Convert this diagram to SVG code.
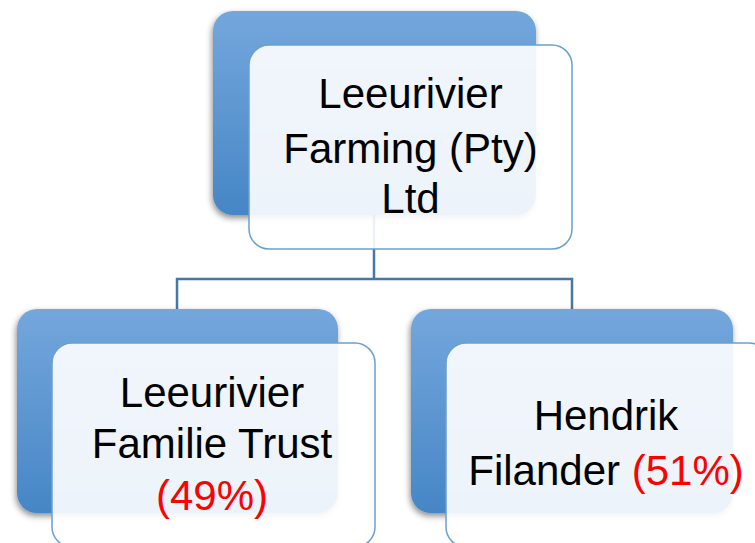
<svg xmlns="http://www.w3.org/2000/svg" width="755" height="543" viewBox="0 0 755 543">
  <defs>
    <linearGradient id="backFill" x1="0" y1="0" x2="0" y2="1">
      <stop offset="0" stop-color="#74a7dc"/>
      <stop offset="1" stop-color="#4686c6"/>
    </linearGradient>
    <filter id="shadow" x="-10%" y="-10%" width="125%" height="130%">
      <feDropShadow dx="-1" dy="3" stdDeviation="3" flood-color="#000" flood-opacity="0.45"/>
    </filter>
    <style>
      .back { fill: url(#backFill); filter: url(#shadow); }
      .front { fill: #ffffff; fill-opacity: 0.9; stroke: #6a9fd3; stroke-width: 1.5; }
      .conn { fill: none; stroke: #4677a8; stroke-width: 2.5; }
      .label { font-family: "Liberation Sans", Arial, sans-serif; font-size: 42px; fill: #000; text-anchor: middle; }
      .pct { fill: #ff0000; }
    </style>
  </defs>

  <rect width="755" height="543" fill="#ffffff"/>

  <!-- connectors -->
  <g id="connectors">
    <path class="conn" d="M374,215 V279"/>
    <path class="conn" d="M177,309 V279 H572 V309"/>
  </g>

  <!-- top node -->
  <g id="node-farming">
    <rect class="back" x="213" y="11" width="323" height="204" rx="20"/>
    <rect class="front" x="249" y="45" width="323" height="204" rx="20"/>
    <text class="label" x="410.5" y="108">Leeurivier</text>
    <text class="label" x="410.5" y="163">Farming (Pty)</text>
    <text class="label" x="410.5" y="213">Ltd</text>
  </g>

  <!-- bottom left node -->
  <g id="node-trust">
    <rect class="back" x="17" y="309" width="321" height="204" rx="20"/>
    <rect class="front" x="52" y="343" width="323" height="204" rx="20"/>
    <text class="label" x="212" y="407">Leeurivier</text>
    <text class="label" x="212" y="458">Familie Trust</text>
    <text class="label pct" x="212" y="510">(49%)</text>
  </g>

  <!-- bottom right node -->
  <g id="node-hendrik">
    <rect class="back" x="411" y="309" width="322" height="204" rx="20"/>
    <rect class="front" x="446" y="343" width="323" height="204" rx="20"/>
    <text class="label" x="606" y="430">Hendrik</text>
    <text class="label" x="606" y="485">Filander <tspan class="pct">(51%)</tspan></text>
  </g>
</svg>
